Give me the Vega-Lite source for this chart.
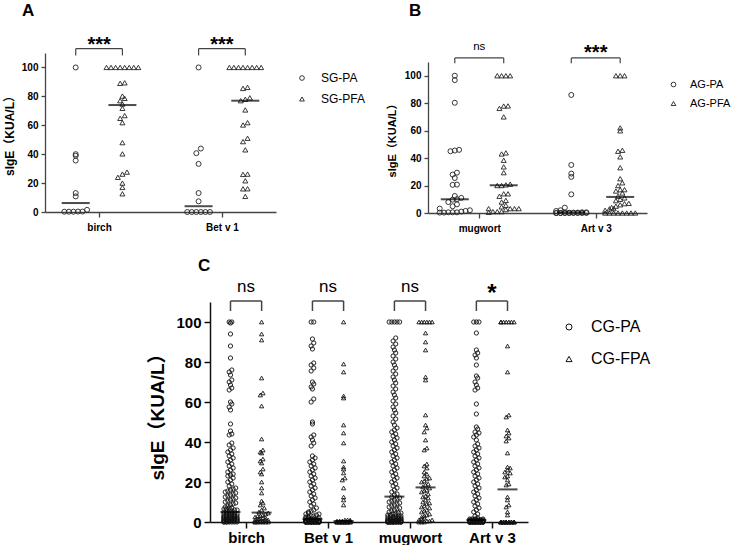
{
  "$schema": "https://vega.github.io/schema/vega-lite/v6.json",
  "padding": {"left": 3, "top": 1, "right": 0, "bottom": 0},
  "bounds": "flush",
  "spacing": 249,
  "resolve": {"scale": {"shape": "independent"}, "legend": {"shape": "independent"}},
  "config": {
    "view": {"stroke": null},
    "font": "Liberation Sans, Noto Sans CJK SC",
    "axis": {"grid": false, "labelColor": "black", "titleColor": "black", "labelFlush": false, "labelOverlap": false},
    "title": {"color": "black"}
  },
  "datasets": {
    "A": [
      {"a":"birch","g":"SG-PA","v":100},{"a":"birch","g":"SG-PA","v":40},{"a":"birch","g":"SG-PA","v":38.9},{"a":"birch","g":"SG-PA","v":35.6},{"a":"birch","g":"SG-PA","v":13.1},{"a":"birch","g":"SG-PA","v":10.8},{"a":"birch","g":"SG-PA","v":1.5},{"a":"birch","g":"SG-PA","v":0.3},{"a":"birch","g":"SG-PA","v":0.2},{"a":"birch","g":"SG-PA","v":0.2},{"a":"birch","g":"SG-PA","v":0.3},{"a":"birch","g":"SG-PA","v":0.2},
      {"a":"birch","g":"SG-PFA","v":100},{"a":"birch","g":"SG-PFA","v":100},{"a":"birch","g":"SG-PFA","v":100},{"a":"birch","g":"SG-PFA","v":100},{"a":"birch","g":"SG-PFA","v":100},{"a":"birch","g":"SG-PFA","v":100},{"a":"birch","g":"SG-PFA","v":100},{"a":"birch","g":"SG-PFA","v":100},{"a":"birch","g":"SG-PFA","v":89.4},{"a":"birch","g":"SG-PFA","v":89},{"a":"birch","g":"SG-PFA","v":80.2},{"a":"birch","g":"SG-PFA","v":78.6},{"a":"birch","g":"SG-PFA","v":77},{"a":"birch","g":"SG-PFA","v":74.7},{"a":"birch","g":"SG-PFA","v":71.7},{"a":"birch","g":"SG-PFA","v":66.7},{"a":"birch","g":"SG-PFA","v":64.8},{"a":"birch","g":"SG-PFA","v":61.8},{"a":"birch","g":"SG-PFA","v":48},{"a":"birch","g":"SG-PFA","v":40.2},{"a":"birch","g":"SG-PFA","v":27.6},{"a":"birch","g":"SG-PFA","v":26.2},{"a":"birch","g":"SG-PFA","v":24},{"a":"birch","g":"SG-PFA","v":20},{"a":"birch","g":"SG-PFA","v":17},{"a":"birch","g":"SG-PFA","v":12.6},
      {"a":"Bet v 1","g":"SG-PA","v":100},{"a":"Bet v 1","g":"SG-PA","v":43.9},{"a":"Bet v 1","g":"SG-PA","v":40.7},{"a":"Bet v 1","g":"SG-PA","v":33.3},{"a":"Bet v 1","g":"SG-PA","v":13.1},{"a":"Bet v 1","g":"SG-PA","v":7.4},{"a":"Bet v 1","g":"SG-PA","v":0},{"a":"Bet v 1","g":"SG-PA","v":0},{"a":"Bet v 1","g":"SG-PA","v":0},{"a":"Bet v 1","g":"SG-PA","v":0},{"a":"Bet v 1","g":"SG-PA","v":0},{"a":"Bet v 1","g":"SG-PA","v":0},
      {"a":"Bet v 1","g":"SG-PFA","v":100},{"a":"Bet v 1","g":"SG-PFA","v":100},{"a":"Bet v 1","g":"SG-PFA","v":100},{"a":"Bet v 1","g":"SG-PFA","v":100},{"a":"Bet v 1","g":"SG-PFA","v":100},{"a":"Bet v 1","g":"SG-PFA","v":100},{"a":"Bet v 1","g":"SG-PFA","v":100},{"a":"Bet v 1","g":"SG-PFA","v":100},{"a":"Bet v 1","g":"SG-PFA","v":86.2},{"a":"Bet v 1","g":"SG-PFA","v":85.5},{"a":"Bet v 1","g":"SG-PFA","v":79},{"a":"Bet v 1","g":"SG-PFA","v":78},{"a":"Bet v 1","g":"SG-PFA","v":77},{"a":"Bet v 1","g":"SG-PFA","v":70.6},{"a":"Bet v 1","g":"SG-PFA","v":61.8},{"a":"Bet v 1","g":"SG-PFA","v":60.2},{"a":"Bet v 1","g":"SG-PFA","v":51},{"a":"Bet v 1","g":"SG-PFA","v":48.7},{"a":"Bet v 1","g":"SG-PFA","v":43},{"a":"Bet v 1","g":"SG-PFA","v":26.2},{"a":"Bet v 1","g":"SG-PFA","v":26},{"a":"Bet v 1","g":"SG-PFA","v":21.6},{"a":"Bet v 1","g":"SG-PFA","v":16.1},{"a":"Bet v 1","g":"SG-PFA","v":16},{"a":"Bet v 1","g":"SG-PFA","v":10.8}
    ],
    "mA": [
      {"a":"birch","g":"SG-PA","v":6.2},{"a":"birch","g":"SG-PFA","v":74},{"a":"Bet v 1","g":"SG-PA","v":4},{"a":"Bet v 1","g":"SG-PFA","v":77}
    ],
    "B": [
      {"a":"mugwort","g":"AG-PA","v":100},{"a":"mugwort","g":"AG-PA","v":96.8},{"a":"mugwort","g":"AG-PA","v":80.3},{"a":"mugwort","g":"AG-PA","v":46},{"a":"mugwort","g":"AG-PA","v":45.5},{"a":"mugwort","g":"AG-PA","v":45},{"a":"mugwort","g":"AG-PA","v":29.4},{"a":"mugwort","g":"AG-PA","v":28},{"a":"mugwort","g":"AG-PA","v":25.5},{"a":"mugwort","g":"AG-PA","v":20.7},{"a":"mugwort","g":"AG-PA","v":20.5},{"a":"mugwort","g":"AG-PA","v":12.4},{"a":"mugwort","g":"AG-PA","v":11},{"a":"mugwort","g":"AG-PA","v":10},{"a":"mugwort","g":"AG-PA","v":9.7},{"a":"mugwort","g":"AG-PA","v":8},{"a":"mugwort","g":"AG-PA","v":6.3},{"a":"mugwort","g":"AG-PA","v":4.9},{"a":"mugwort","g":"AG-PA","v":3.2},{"a":"mugwort","g":"AG-PA","v":2},{"a":"mugwort","g":"AG-PA","v":1.5},{"a":"mugwort","g":"AG-PA","v":1},{"a":"mugwort","g":"AG-PA","v":0.5},{"a":"mugwort","g":"AG-PA","v":0.5},{"a":"mugwort","g":"AG-PA","v":0.5},{"a":"mugwort","g":"AG-PA","v":0.3},{"a":"mugwort","g":"AG-PA","v":0.3},
      {"a":"mugwort","g":"AG-PFA","v":100},{"a":"mugwort","g":"AG-PFA","v":100},{"a":"mugwort","g":"AG-PFA","v":100},{"a":"mugwort","g":"AG-PFA","v":100},{"a":"mugwort","g":"AG-PFA","v":78},{"a":"mugwort","g":"AG-PFA","v":77.9},{"a":"mugwort","g":"AG-PFA","v":76.2},{"a":"mugwort","g":"AG-PFA","v":70},{"a":"mugwort","g":"AG-PFA","v":43.8},{"a":"mugwort","g":"AG-PFA","v":43},{"a":"mugwort","g":"AG-PFA","v":38.4},{"a":"mugwort","g":"AG-PFA","v":33.6},{"a":"mugwort","g":"AG-PFA","v":29.4},{"a":"mugwort","g":"AG-PFA","v":21},{"a":"mugwort","g":"AG-PFA","v":20.5},{"a":"mugwort","g":"AG-PFA","v":20},{"a":"mugwort","g":"AG-PFA","v":20},{"a":"mugwort","g":"AG-PFA","v":14},{"a":"mugwort","g":"AG-PFA","v":14},{"a":"mugwort","g":"AG-PFA","v":12.2},{"a":"mugwort","g":"AG-PFA","v":9.2},{"a":"mugwort","g":"AG-PFA","v":8},{"a":"mugwort","g":"AG-PFA","v":5.6},{"a":"mugwort","g":"AG-PFA","v":4.5},{"a":"mugwort","g":"AG-PFA","v":3.2},{"a":"mugwort","g":"AG-PFA","v":3.2},{"a":"mugwort","g":"AG-PFA","v":3.2},{"a":"mugwort","g":"AG-PFA","v":3.2},{"a":"mugwort","g":"AG-PFA","v":2.5},{"a":"mugwort","g":"AG-PFA","v":1},{"a":"mugwort","g":"AG-PFA","v":1},{"a":"mugwort","g":"AG-PFA","v":1},{"a":"mugwort","g":"AG-PFA","v":0.5},
      {"a":"Art v 3","g":"AG-PA","v":86},{"a":"Art v 3","g":"AG-PA","v":35},{"a":"Art v 3","g":"AG-PA","v":28.7},{"a":"Art v 3","g":"AG-PA","v":26.3},{"a":"Art v 3","g":"AG-PA","v":13.6},{"a":"Art v 3","g":"AG-PA","v":3.9},{"a":"Art v 3","g":"AG-PA","v":2},{"a":"Art v 3","g":"AG-PA","v":1.5},{"a":"Art v 3","g":"AG-PA","v":0.5},{"a":"Art v 3","g":"AG-PA","v":0.5},{"a":"Art v 3","g":"AG-PA","v":0.3},{"a":"Art v 3","g":"AG-PA","v":0.3},{"a":"Art v 3","g":"AG-PA","v":0.2},{"a":"Art v 3","g":"AG-PA","v":0.2},{"a":"Art v 3","g":"AG-PA","v":0},{"a":"Art v 3","g":"AG-PA","v":0},{"a":"Art v 3","g":"AG-PA","v":0},{"a":"Art v 3","g":"AG-PA","v":0},{"a":"Art v 3","g":"AG-PA","v":0},{"a":"Art v 3","g":"AG-PA","v":0},{"a":"Art v 3","g":"AG-PA","v":0},{"a":"Art v 3","g":"AG-PA","v":0},{"a":"Art v 3","g":"AG-PA","v":0},{"a":"Art v 3","g":"AG-PA","v":0},
      {"a":"Art v 3","g":"AG-PFA","v":100},{"a":"Art v 3","g":"AG-PFA","v":100},{"a":"Art v 3","g":"AG-PFA","v":100},{"a":"Art v 3","g":"AG-PFA","v":62},{"a":"Art v 3","g":"AG-PFA","v":59.9},{"a":"Art v 3","g":"AG-PFA","v":45.7},{"a":"Art v 3","g":"AG-PFA","v":45},{"a":"Art v 3","g":"AG-PFA","v":40.9},{"a":"Art v 3","g":"AG-PFA","v":33},{"a":"Art v 3","g":"AG-PFA","v":25},{"a":"Art v 3","g":"AG-PFA","v":22},{"a":"Art v 3","g":"AG-PFA","v":20},{"a":"Art v 3","g":"AG-PFA","v":17},{"a":"Art v 3","g":"AG-PFA","v":17},{"a":"Art v 3","g":"AG-PFA","v":16},{"a":"Art v 3","g":"AG-PFA","v":14.6},{"a":"Art v 3","g":"AG-PFA","v":12.2},{"a":"Art v 3","g":"AG-PFA","v":11},{"a":"Art v 3","g":"AG-PFA","v":10},{"a":"Art v 3","g":"AG-PFA","v":9},{"a":"Art v 3","g":"AG-PFA","v":7},{"a":"Art v 3","g":"AG-PFA","v":6.8},{"a":"Art v 3","g":"AG-PFA","v":6},{"a":"Art v 3","g":"AG-PFA","v":5},{"a":"Art v 3","g":"AG-PFA","v":4},{"a":"Art v 3","g":"AG-PFA","v":3.2},{"a":"Art v 3","g":"AG-PFA","v":3},{"a":"Art v 3","g":"AG-PFA","v":2},{"a":"Art v 3","g":"AG-PFA","v":0},{"a":"Art v 3","g":"AG-PFA","v":0},{"a":"Art v 3","g":"AG-PFA","v":0},{"a":"Art v 3","g":"AG-PFA","v":0},{"a":"Art v 3","g":"AG-PFA","v":0},{"a":"Art v 3","g":"AG-PFA","v":0},{"a":"Art v 3","g":"AG-PFA","v":0},{"a":"Art v 3","g":"AG-PFA","v":0}
    ],
    "mB": [
      {"a":"mugwort","g":"AG-PA","v":10},{"a":"mugwort","g":"AG-PFA","v":20.2},{"a":"Art v 3","g":"AG-PA","v":0.5},{"a":"Art v 3","g":"AG-PFA","v":11.7}
    ],
    "C": [
      {"a":"birch","g":"CG-PA","v":100},{"a":"birch","g":"CG-PA","v":100},{"a":"birch","g":"CG-PA","v":99.5},{"a":"birch","g":"CG-PA","v":94},{"a":"birch","g":"CG-PA","v":88},{"a":"birch","g":"CG-PA","v":82},{"a":"birch","g":"CG-PA","v":76},{"a":"birch","g":"CG-PA","v":75},{"a":"birch","g":"CG-PA","v":73.5},{"a":"birch","g":"CG-PA","v":71},{"a":"birch","g":"CG-PA","v":70},{"a":"birch","g":"CG-PA","v":68.5},{"a":"birch","g":"CG-PA","v":67},{"a":"birch","g":"CG-PA","v":66},{"a":"birch","g":"CG-PA","v":60},{"a":"birch","g":"CG-PA","v":59},{"a":"birch","g":"CG-PA","v":57.5},{"a":"birch","g":"CG-PA","v":56},{"a":"birch","g":"CG-PA","v":49},{"a":"birch","g":"CG-PA","v":45.5},{"a":"birch","g":"CG-PA","v":44},{"a":"birch","g":"CG-PA","v":43.5},{"a":"birch","g":"CG-PA","v":39.5},{"a":"birch","g":"CG-PA","v":38.5},{"a":"birch","g":"CG-PA","v":37},{"a":"birch","g":"CG-PA","v":36},{"a":"birch","g":"CG-PA","v":35},{"a":"birch","g":"CG-PA","v":34},{"a":"birch","g":"CG-PA","v":33},{"a":"birch","g":"CG-PA","v":32},{"a":"birch","g":"CG-PA","v":31},{"a":"birch","g":"CG-PA","v":30},{"a":"birch","g":"CG-PA","v":29},{"a":"birch","g":"CG-PA","v":28},{"a":"birch","g":"CG-PA","v":27},{"a":"birch","g":"CG-PA","v":26},{"a":"birch","g":"CG-PA","v":25},{"a":"birch","g":"CG-PA","v":24},{"a":"birch","g":"CG-PA","v":23.5},{"a":"birch","g":"CG-PA","v":23},{"a":"birch","g":"CG-PA","v":22},{"a":"birch","g":"CG-PA","v":21},{"a":"birch","g":"CG-PA","v":20},{"a":"birch","g":"CG-PA","v":19},{"a":"birch","g":"CG-PA","v":18},{"a":"birch","g":"CG-PA","v":17},{"a":"birch","g":"CG-PA","v":16.5},{"a":"birch","g":"CG-PA","v":16},{"a":"birch","g":"CG-PA","v":15.5},{"a":"birch","g":"CG-PA","v":15},{"a":"birch","g":"CG-PA","v":14.5},{"a":"birch","g":"CG-PA","v":14},{"a":"birch","g":"CG-PA","v":13.5},{"a":"birch","g":"CG-PA","v":13},{"a":"birch","g":"CG-PA","v":12.5},{"a":"birch","g":"CG-PA","v":12},{"a":"birch","g":"CG-PA","v":11.5},{"a":"birch","g":"CG-PA","v":11},{"a":"birch","g":"CG-PA","v":10.5},{"a":"birch","g":"CG-PA","v":10},{"a":"birch","g":"CG-PA","v":9.5},{"a":"birch","g":"CG-PA","v":9},{"a":"birch","g":"CG-PA","v":8.5},{"a":"birch","g":"CG-PA","v":8},{"a":"birch","g":"CG-PA","v":7.5},{"a":"birch","g":"CG-PA","v":7},{"a":"birch","g":"CG-PA","v":7},{"a":"birch","g":"CG-PA","v":6.5},{"a":"birch","g":"CG-PA","v":6.5},{"a":"birch","g":"CG-PA","v":6},{"a":"birch","g":"CG-PA","v":6},{"a":"birch","g":"CG-PA","v":5.5},{"a":"birch","g":"CG-PA","v":5.5},{"a":"birch","g":"CG-PA","v":5},{"a":"birch","g":"CG-PA","v":5},{"a":"birch","g":"CG-PA","v":4.5},{"a":"birch","g":"CG-PA","v":4.5},{"a":"birch","g":"CG-PA","v":4.5},{"a":"birch","g":"CG-PA","v":4},{"a":"birch","g":"CG-PA","v":4},{"a":"birch","g":"CG-PA","v":4},{"a":"birch","g":"CG-PA","v":3.5},{"a":"birch","g":"CG-PA","v":3.5},{"a":"birch","g":"CG-PA","v":3.5},{"a":"birch","g":"CG-PA","v":3},{"a":"birch","g":"CG-PA","v":3},{"a":"birch","g":"CG-PA","v":3},{"a":"birch","g":"CG-PA","v":3},{"a":"birch","g":"CG-PA","v":2.5},{"a":"birch","g":"CG-PA","v":2.5},{"a":"birch","g":"CG-PA","v":2.5},{"a":"birch","g":"CG-PA","v":2.5},{"a":"birch","g":"CG-PA","v":2},{"a":"birch","g":"CG-PA","v":2},{"a":"birch","g":"CG-PA","v":2},{"a":"birch","g":"CG-PA","v":2},{"a":"birch","g":"CG-PA","v":2},{"a":"birch","g":"CG-PA","v":1.5},{"a":"birch","g":"CG-PA","v":1.5},{"a":"birch","g":"CG-PA","v":1.5},{"a":"birch","g":"CG-PA","v":1.5},{"a":"birch","g":"CG-PA","v":1.5},{"a":"birch","g":"CG-PA","v":1},{"a":"birch","g":"CG-PA","v":1},{"a":"birch","g":"CG-PA","v":1},{"a":"birch","g":"CG-PA","v":1},{"a":"birch","g":"CG-PA","v":1},{"a":"birch","g":"CG-PA","v":1},{"a":"birch","g":"CG-PA","v":0.5},{"a":"birch","g":"CG-PA","v":0.5},{"a":"birch","g":"CG-PA","v":0.5},{"a":"birch","g":"CG-PA","v":0.5},{"a":"birch","g":"CG-PA","v":0.5},{"a":"birch","g":"CG-PA","v":0.5},{"a":"birch","g":"CG-PA","v":0.5},{"a":"birch","g":"CG-PA","v":0},{"a":"birch","g":"CG-PA","v":0},{"a":"birch","g":"CG-PA","v":0},{"a":"birch","g":"CG-PA","v":0},{"a":"birch","g":"CG-PA","v":0},{"a":"birch","g":"CG-PA","v":0},{"a":"birch","g":"CG-PA","v":0},{"a":"birch","g":"CG-PA","v":0},
      {"a":"birch","g":"CG-FPA","v":100},{"a":"birch","g":"CG-FPA","v":94},{"a":"birch","g":"CG-FPA","v":91},{"a":"birch","g":"CG-FPA","v":72},{"a":"birch","g":"CG-FPA","v":64.5},{"a":"birch","g":"CG-FPA","v":63.5},{"a":"birch","g":"CG-FPA","v":58},{"a":"birch","g":"CG-FPA","v":41.5},{"a":"birch","g":"CG-FPA","v":36},{"a":"birch","g":"CG-FPA","v":35},{"a":"birch","g":"CG-FPA","v":34.5},{"a":"birch","g":"CG-FPA","v":31.5},{"a":"birch","g":"CG-FPA","v":30.5},{"a":"birch","g":"CG-FPA","v":29.5},{"a":"birch","g":"CG-FPA","v":26.5},{"a":"birch","g":"CG-FPA","v":25},{"a":"birch","g":"CG-FPA","v":24},{"a":"birch","g":"CG-FPA","v":20},{"a":"birch","g":"CG-FPA","v":17},{"a":"birch","g":"CG-FPA","v":14.5},{"a":"birch","g":"CG-FPA","v":10.5},{"a":"birch","g":"CG-FPA","v":9.5},{"a":"birch","g":"CG-FPA","v":8.5},{"a":"birch","g":"CG-FPA","v":7},{"a":"birch","g":"CG-FPA","v":6},{"a":"birch","g":"CG-FPA","v":5},{"a":"birch","g":"CG-FPA","v":4.5},{"a":"birch","g":"CG-FPA","v":4},{"a":"birch","g":"CG-FPA","v":3.5},{"a":"birch","g":"CG-FPA","v":3},{"a":"birch","g":"CG-FPA","v":3},{"a":"birch","g":"CG-FPA","v":2.5},{"a":"birch","g":"CG-FPA","v":2},{"a":"birch","g":"CG-FPA","v":2},{"a":"birch","g":"CG-FPA","v":1.5},{"a":"birch","g":"CG-FPA","v":1.5},{"a":"birch","g":"CG-FPA","v":1},{"a":"birch","g":"CG-FPA","v":1},{"a":"birch","g":"CG-FPA","v":1},{"a":"birch","g":"CG-FPA","v":0.5},{"a":"birch","g":"CG-FPA","v":0.5},{"a":"birch","g":"CG-FPA","v":0.5},{"a":"birch","g":"CG-FPA","v":0},{"a":"birch","g":"CG-FPA","v":0},{"a":"birch","g":"CG-FPA","v":0},{"a":"birch","g":"CG-FPA","v":0},{"a":"birch","g":"CG-FPA","v":0},{"a":"birch","g":"CG-FPA","v":0},{"a":"birch","g":"CG-FPA","v":0},
      {"a":"Bet v 1","g":"CG-PA","v":100},{"a":"Bet v 1","g":"CG-PA","v":100},{"a":"Bet v 1","g":"CG-PA","v":91.5},{"a":"Bet v 1","g":"CG-PA","v":89.5},{"a":"Bet v 1","g":"CG-PA","v":88},{"a":"Bet v 1","g":"CG-PA","v":86.5},{"a":"Bet v 1","g":"CG-PA","v":79.5},{"a":"Bet v 1","g":"CG-PA","v":78.5},{"a":"Bet v 1","g":"CG-PA","v":77},{"a":"Bet v 1","g":"CG-PA","v":75.5},{"a":"Bet v 1","g":"CG-PA","v":70},{"a":"Bet v 1","g":"CG-PA","v":69},{"a":"Bet v 1","g":"CG-PA","v":67.5},{"a":"Bet v 1","g":"CG-PA","v":66.5},{"a":"Bet v 1","g":"CG-PA","v":61.5},{"a":"Bet v 1","g":"CG-PA","v":60},{"a":"Bet v 1","g":"CG-PA","v":50},{"a":"Bet v 1","g":"CG-PA","v":49},{"a":"Bet v 1","g":"CG-PA","v":43.5},{"a":"Bet v 1","g":"CG-PA","v":42.5},{"a":"Bet v 1","g":"CG-PA","v":41},{"a":"Bet v 1","g":"CG-PA","v":39.5},{"a":"Bet v 1","g":"CG-PA","v":38},{"a":"Bet v 1","g":"CG-PA","v":33},{"a":"Bet v 1","g":"CG-PA","v":32},{"a":"Bet v 1","g":"CG-PA","v":31},{"a":"Bet v 1","g":"CG-PA","v":30},{"a":"Bet v 1","g":"CG-PA","v":29},{"a":"Bet v 1","g":"CG-PA","v":28},{"a":"Bet v 1","g":"CG-PA","v":27},{"a":"Bet v 1","g":"CG-PA","v":26},{"a":"Bet v 1","g":"CG-PA","v":25},{"a":"Bet v 1","g":"CG-PA","v":24},{"a":"Bet v 1","g":"CG-PA","v":23},{"a":"Bet v 1","g":"CG-PA","v":22},{"a":"Bet v 1","g":"CG-PA","v":21},{"a":"Bet v 1","g":"CG-PA","v":20},{"a":"Bet v 1","g":"CG-PA","v":19},{"a":"Bet v 1","g":"CG-PA","v":18},{"a":"Bet v 1","g":"CG-PA","v":17},{"a":"Bet v 1","g":"CG-PA","v":16},{"a":"Bet v 1","g":"CG-PA","v":15},{"a":"Bet v 1","g":"CG-PA","v":14},{"a":"Bet v 1","g":"CG-PA","v":13},{"a":"Bet v 1","g":"CG-PA","v":12},{"a":"Bet v 1","g":"CG-PA","v":11},{"a":"Bet v 1","g":"CG-PA","v":10},{"a":"Bet v 1","g":"CG-PA","v":9},{"a":"Bet v 1","g":"CG-PA","v":8},{"a":"Bet v 1","g":"CG-PA","v":7},{"a":"Bet v 1","g":"CG-PA","v":6},{"a":"Bet v 1","g":"CG-PA","v":5.5},{"a":"Bet v 1","g":"CG-PA","v":5},{"a":"Bet v 1","g":"CG-PA","v":4.5},{"a":"Bet v 1","g":"CG-PA","v":4},{"a":"Bet v 1","g":"CG-PA","v":4},{"a":"Bet v 1","g":"CG-PA","v":3.5},{"a":"Bet v 1","g":"CG-PA","v":3},{"a":"Bet v 1","g":"CG-PA","v":3},{"a":"Bet v 1","g":"CG-PA","v":2.5},{"a":"Bet v 1","g":"CG-PA","v":2.5},{"a":"Bet v 1","g":"CG-PA","v":2},{"a":"Bet v 1","g":"CG-PA","v":2},{"a":"Bet v 1","g":"CG-PA","v":2},{"a":"Bet v 1","g":"CG-PA","v":1.5},{"a":"Bet v 1","g":"CG-PA","v":1.5},{"a":"Bet v 1","g":"CG-PA","v":1.5},{"a":"Bet v 1","g":"CG-PA","v":1},{"a":"Bet v 1","g":"CG-PA","v":1},{"a":"Bet v 1","g":"CG-PA","v":1},{"a":"Bet v 1","g":"CG-PA","v":1},{"a":"Bet v 1","g":"CG-PA","v":1},{"a":"Bet v 1","g":"CG-PA","v":1},{"a":"Bet v 1","g":"CG-PA","v":1},{"a":"Bet v 1","g":"CG-PA","v":1},{"a":"Bet v 1","g":"CG-PA","v":0.5},{"a":"Bet v 1","g":"CG-PA","v":0.5},{"a":"Bet v 1","g":"CG-PA","v":0.5},{"a":"Bet v 1","g":"CG-PA","v":0.5},{"a":"Bet v 1","g":"CG-PA","v":0.5},{"a":"Bet v 1","g":"CG-PA","v":0.5},{"a":"Bet v 1","g":"CG-PA","v":0.5},{"a":"Bet v 1","g":"CG-PA","v":0.5},{"a":"Bet v 1","g":"CG-PA","v":0.5},{"a":"Bet v 1","g":"CG-PA","v":0.5},{"a":"Bet v 1","g":"CG-PA","v":0.5},{"a":"Bet v 1","g":"CG-PA","v":0.5},{"a":"Bet v 1","g":"CG-PA","v":0},{"a":"Bet v 1","g":"CG-PA","v":0},{"a":"Bet v 1","g":"CG-PA","v":0},{"a":"Bet v 1","g":"CG-PA","v":0},{"a":"Bet v 1","g":"CG-PA","v":0},{"a":"Bet v 1","g":"CG-PA","v":0},{"a":"Bet v 1","g":"CG-PA","v":0},{"a":"Bet v 1","g":"CG-PA","v":0},{"a":"Bet v 1","g":"CG-PA","v":0},{"a":"Bet v 1","g":"CG-PA","v":0},{"a":"Bet v 1","g":"CG-PA","v":0},{"a":"Bet v 1","g":"CG-PA","v":0},{"a":"Bet v 1","g":"CG-PA","v":0},{"a":"Bet v 1","g":"CG-PA","v":0},{"a":"Bet v 1","g":"CG-PA","v":0},{"a":"Bet v 1","g":"CG-PA","v":0},{"a":"Bet v 1","g":"CG-PA","v":0},{"a":"Bet v 1","g":"CG-PA","v":0},{"a":"Bet v 1","g":"CG-PA","v":0},{"a":"Bet v 1","g":"CG-PA","v":0},{"a":"Bet v 1","g":"CG-PA","v":0},{"a":"Bet v 1","g":"CG-PA","v":0},{"a":"Bet v 1","g":"CG-PA","v":0},{"a":"Bet v 1","g":"CG-PA","v":0},{"a":"Bet v 1","g":"CG-PA","v":0},{"a":"Bet v 1","g":"CG-PA","v":0},{"a":"Bet v 1","g":"CG-PA","v":0},{"a":"Bet v 1","g":"CG-PA","v":0},{"a":"Bet v 1","g":"CG-PA","v":0},{"a":"Bet v 1","g":"CG-PA","v":0},
      {"a":"Bet v 1","g":"CG-FPA","v":100},{"a":"Bet v 1","g":"CG-FPA","v":79},{"a":"Bet v 1","g":"CG-FPA","v":75},{"a":"Bet v 1","g":"CG-FPA","v":63},{"a":"Bet v 1","g":"CG-FPA","v":62},{"a":"Bet v 1","g":"CG-FPA","v":48.5},{"a":"Bet v 1","g":"CG-FPA","v":44.5},{"a":"Bet v 1","g":"CG-FPA","v":39.5},{"a":"Bet v 1","g":"CG-FPA","v":30.5},{"a":"Bet v 1","g":"CG-FPA","v":27.5},{"a":"Bet v 1","g":"CG-FPA","v":26.5},{"a":"Bet v 1","g":"CG-FPA","v":24.5},{"a":"Bet v 1","g":"CG-FPA","v":22},{"a":"Bet v 1","g":"CG-FPA","v":21},{"a":"Bet v 1","g":"CG-FPA","v":17},{"a":"Bet v 1","g":"CG-FPA","v":12.5},{"a":"Bet v 1","g":"CG-FPA","v":11},{"a":"Bet v 1","g":"CG-FPA","v":8.5},{"a":"Bet v 1","g":"CG-FPA","v":1},{"a":"Bet v 1","g":"CG-FPA","v":1},{"a":"Bet v 1","g":"CG-FPA","v":1},{"a":"Bet v 1","g":"CG-FPA","v":0.5},{"a":"Bet v 1","g":"CG-FPA","v":0.5},{"a":"Bet v 1","g":"CG-FPA","v":0.5},{"a":"Bet v 1","g":"CG-FPA","v":0.5},{"a":"Bet v 1","g":"CG-FPA","v":0},{"a":"Bet v 1","g":"CG-FPA","v":0},{"a":"Bet v 1","g":"CG-FPA","v":0},{"a":"Bet v 1","g":"CG-FPA","v":0},{"a":"Bet v 1","g":"CG-FPA","v":0},{"a":"Bet v 1","g":"CG-FPA","v":0},{"a":"Bet v 1","g":"CG-FPA","v":0},{"a":"Bet v 1","g":"CG-FPA","v":0},{"a":"Bet v 1","g":"CG-FPA","v":0},{"a":"Bet v 1","g":"CG-FPA","v":0},{"a":"Bet v 1","g":"CG-FPA","v":0},{"a":"Bet v 1","g":"CG-FPA","v":0},{"a":"Bet v 1","g":"CG-FPA","v":0},{"a":"Bet v 1","g":"CG-FPA","v":0},{"a":"Bet v 1","g":"CG-FPA","v":0},{"a":"Bet v 1","g":"CG-FPA","v":0},{"a":"Bet v 1","g":"CG-FPA","v":0},
      {"a":"mugwort","g":"CG-PA","v":100},{"a":"mugwort","g":"CG-PA","v":100},{"a":"mugwort","g":"CG-PA","v":100},{"a":"mugwort","g":"CG-PA","v":100},{"a":"mugwort","g":"CG-PA","v":100},{"a":"mugwort","g":"CG-PA","v":92},{"a":"mugwort","g":"CG-PA","v":90.5},{"a":"mugwort","g":"CG-PA","v":89},{"a":"mugwort","g":"CG-PA","v":87.5},{"a":"mugwort","g":"CG-PA","v":86},{"a":"mugwort","g":"CG-PA","v":84.5},{"a":"mugwort","g":"CG-PA","v":83},{"a":"mugwort","g":"CG-PA","v":81.5},{"a":"mugwort","g":"CG-PA","v":80},{"a":"mugwort","g":"CG-PA","v":78.5},{"a":"mugwort","g":"CG-PA","v":77},{"a":"mugwort","g":"CG-PA","v":75.5},{"a":"mugwort","g":"CG-PA","v":74},{"a":"mugwort","g":"CG-PA","v":72.5},{"a":"mugwort","g":"CG-PA","v":71},{"a":"mugwort","g":"CG-PA","v":69.5},{"a":"mugwort","g":"CG-PA","v":68},{"a":"mugwort","g":"CG-PA","v":66.5},{"a":"mugwort","g":"CG-PA","v":65},{"a":"mugwort","g":"CG-PA","v":63.5},{"a":"mugwort","g":"CG-PA","v":62},{"a":"mugwort","g":"CG-PA","v":60.5},{"a":"mugwort","g":"CG-PA","v":59},{"a":"mugwort","g":"CG-PA","v":57.5},{"a":"mugwort","g":"CG-PA","v":56},{"a":"mugwort","g":"CG-PA","v":54.5},{"a":"mugwort","g":"CG-PA","v":53},{"a":"mugwort","g":"CG-PA","v":51.5},{"a":"mugwort","g":"CG-PA","v":50},{"a":"mugwort","g":"CG-PA","v":48.5},{"a":"mugwort","g":"CG-PA","v":47},{"a":"mugwort","g":"CG-PA","v":46},{"a":"mugwort","g":"CG-PA","v":45},{"a":"mugwort","g":"CG-PA","v":44},{"a":"mugwort","g":"CG-PA","v":43},{"a":"mugwort","g":"CG-PA","v":42},{"a":"mugwort","g":"CG-PA","v":41},{"a":"mugwort","g":"CG-PA","v":40},{"a":"mugwort","g":"CG-PA","v":39},{"a":"mugwort","g":"CG-PA","v":38},{"a":"mugwort","g":"CG-PA","v":37},{"a":"mugwort","g":"CG-PA","v":36},{"a":"mugwort","g":"CG-PA","v":35},{"a":"mugwort","g":"CG-PA","v":34},{"a":"mugwort","g":"CG-PA","v":33},{"a":"mugwort","g":"CG-PA","v":32},{"a":"mugwort","g":"CG-PA","v":31},{"a":"mugwort","g":"CG-PA","v":30},{"a":"mugwort","g":"CG-PA","v":29},{"a":"mugwort","g":"CG-PA","v":28},{"a":"mugwort","g":"CG-PA","v":27},{"a":"mugwort","g":"CG-PA","v":26},{"a":"mugwort","g":"CG-PA","v":25},{"a":"mugwort","g":"CG-PA","v":24},{"a":"mugwort","g":"CG-PA","v":23},{"a":"mugwort","g":"CG-PA","v":22},{"a":"mugwort","g":"CG-PA","v":21},{"a":"mugwort","g":"CG-PA","v":20},{"a":"mugwort","g":"CG-PA","v":19},{"a":"mugwort","g":"CG-PA","v":18},{"a":"mugwort","g":"CG-PA","v":17},{"a":"mugwort","g":"CG-PA","v":16},{"a":"mugwort","g":"CG-PA","v":15},{"a":"mugwort","g":"CG-PA","v":14},{"a":"mugwort","g":"CG-PA","v":13.5},{"a":"mugwort","g":"CG-PA","v":12.5},{"a":"mugwort","g":"CG-PA","v":12},{"a":"mugwort","g":"CG-PA","v":11.5},{"a":"mugwort","g":"CG-PA","v":11},{"a":"mugwort","g":"CG-PA","v":10.5},{"a":"mugwort","g":"CG-PA","v":10},{"a":"mugwort","g":"CG-PA","v":9.5},{"a":"mugwort","g":"CG-PA","v":9},{"a":"mugwort","g":"CG-PA","v":8.5},{"a":"mugwort","g":"CG-PA","v":8},{"a":"mugwort","g":"CG-PA","v":7.5},{"a":"mugwort","g":"CG-PA","v":7},{"a":"mugwort","g":"CG-PA","v":6.5},{"a":"mugwort","g":"CG-PA","v":6},{"a":"mugwort","g":"CG-PA","v":5.5},{"a":"mugwort","g":"CG-PA","v":5},{"a":"mugwort","g":"CG-PA","v":4.5},{"a":"mugwort","g":"CG-PA","v":4.5},{"a":"mugwort","g":"CG-PA","v":4},{"a":"mugwort","g":"CG-PA","v":4},{"a":"mugwort","g":"CG-PA","v":3.5},{"a":"mugwort","g":"CG-PA","v":3.5},{"a":"mugwort","g":"CG-PA","v":3},{"a":"mugwort","g":"CG-PA","v":3},{"a":"mugwort","g":"CG-PA","v":3},{"a":"mugwort","g":"CG-PA","v":2.5},{"a":"mugwort","g":"CG-PA","v":2.5},{"a":"mugwort","g":"CG-PA","v":2.5},{"a":"mugwort","g":"CG-PA","v":2},{"a":"mugwort","g":"CG-PA","v":2},{"a":"mugwort","g":"CG-PA","v":2},{"a":"mugwort","g":"CG-PA","v":2},{"a":"mugwort","g":"CG-PA","v":1.5},{"a":"mugwort","g":"CG-PA","v":1.5},{"a":"mugwort","g":"CG-PA","v":1.5},{"a":"mugwort","g":"CG-PA","v":1.5},{"a":"mugwort","g":"CG-PA","v":1},{"a":"mugwort","g":"CG-PA","v":1},{"a":"mugwort","g":"CG-PA","v":1},{"a":"mugwort","g":"CG-PA","v":1},{"a":"mugwort","g":"CG-PA","v":1},{"a":"mugwort","g":"CG-PA","v":0.5},{"a":"mugwort","g":"CG-PA","v":0.5},{"a":"mugwort","g":"CG-PA","v":0.5},{"a":"mugwort","g":"CG-PA","v":0.5},{"a":"mugwort","g":"CG-PA","v":0.5},{"a":"mugwort","g":"CG-PA","v":0.5},{"a":"mugwort","g":"CG-PA","v":0.5},{"a":"mugwort","g":"CG-PA","v":0.5},{"a":"mugwort","g":"CG-PA","v":0},{"a":"mugwort","g":"CG-PA","v":0},{"a":"mugwort","g":"CG-PA","v":0},{"a":"mugwort","g":"CG-PA","v":0},{"a":"mugwort","g":"CG-PA","v":0},{"a":"mugwort","g":"CG-PA","v":0},{"a":"mugwort","g":"CG-PA","v":0},{"a":"mugwort","g":"CG-PA","v":0},{"a":"mugwort","g":"CG-PA","v":0},{"a":"mugwort","g":"CG-PA","v":0},{"a":"mugwort","g":"CG-PA","v":0},{"a":"mugwort","g":"CG-PA","v":0},{"a":"mugwort","g":"CG-PA","v":0},{"a":"mugwort","g":"CG-PA","v":0},{"a":"mugwort","g":"CG-PA","v":0},{"a":"mugwort","g":"CG-PA","v":0},{"a":"mugwort","g":"CG-PA","v":0},{"a":"mugwort","g":"CG-PA","v":0},{"a":"mugwort","g":"CG-PA","v":0},{"a":"mugwort","g":"CG-PA","v":0},{"a":"mugwort","g":"CG-PA","v":0},
      {"a":"mugwort","g":"CG-FPA","v":100},{"a":"mugwort","g":"CG-FPA","v":100},{"a":"mugwort","g":"CG-FPA","v":100},{"a":"mugwort","g":"CG-FPA","v":100},{"a":"mugwort","g":"CG-FPA","v":100},{"a":"mugwort","g":"CG-FPA","v":100},{"a":"mugwort","g":"CG-FPA","v":94.5},{"a":"mugwort","g":"CG-FPA","v":90},{"a":"mugwort","g":"CG-FPA","v":86},{"a":"mugwort","g":"CG-FPA","v":72.5},{"a":"mugwort","g":"CG-FPA","v":71},{"a":"mugwort","g":"CG-FPA","v":53.5},{"a":"mugwort","g":"CG-FPA","v":48.5},{"a":"mugwort","g":"CG-FPA","v":47},{"a":"mugwort","g":"CG-FPA","v":45},{"a":"mugwort","g":"CG-FPA","v":41},{"a":"mugwort","g":"CG-FPA","v":37},{"a":"mugwort","g":"CG-FPA","v":36},{"a":"mugwort","g":"CG-FPA","v":29},{"a":"mugwort","g":"CG-FPA","v":28},{"a":"mugwort","g":"CG-FPA","v":27},{"a":"mugwort","g":"CG-FPA","v":25},{"a":"mugwort","g":"CG-FPA","v":24},{"a":"mugwort","g":"CG-FPA","v":23},{"a":"mugwort","g":"CG-FPA","v":22},{"a":"mugwort","g":"CG-FPA","v":21.5},{"a":"mugwort","g":"CG-FPA","v":20.5},{"a":"mugwort","g":"CG-FPA","v":20},{"a":"mugwort","g":"CG-FPA","v":19},{"a":"mugwort","g":"CG-FPA","v":18.5},{"a":"mugwort","g":"CG-FPA","v":17.5},{"a":"mugwort","g":"CG-FPA","v":17},{"a":"mugwort","g":"CG-FPA","v":16},{"a":"mugwort","g":"CG-FPA","v":15.5},{"a":"mugwort","g":"CG-FPA","v":15},{"a":"mugwort","g":"CG-FPA","v":14},{"a":"mugwort","g":"CG-FPA","v":13},{"a":"mugwort","g":"CG-FPA","v":12.5},{"a":"mugwort","g":"CG-FPA","v":12},{"a":"mugwort","g":"CG-FPA","v":11},{"a":"mugwort","g":"CG-FPA","v":10},{"a":"mugwort","g":"CG-FPA","v":9.5},{"a":"mugwort","g":"CG-FPA","v":9},{"a":"mugwort","g":"CG-FPA","v":8},{"a":"mugwort","g":"CG-FPA","v":7.5},{"a":"mugwort","g":"CG-FPA","v":7},{"a":"mugwort","g":"CG-FPA","v":6},{"a":"mugwort","g":"CG-FPA","v":5.5},{"a":"mugwort","g":"CG-FPA","v":5},{"a":"mugwort","g":"CG-FPA","v":4},{"a":"mugwort","g":"CG-FPA","v":3.5},{"a":"mugwort","g":"CG-FPA","v":3},{"a":"mugwort","g":"CG-FPA","v":2.5},{"a":"mugwort","g":"CG-FPA","v":2},{"a":"mugwort","g":"CG-FPA","v":1.5},{"a":"mugwort","g":"CG-FPA","v":1},{"a":"mugwort","g":"CG-FPA","v":1},{"a":"mugwort","g":"CG-FPA","v":0.5},{"a":"mugwort","g":"CG-FPA","v":0.5},{"a":"mugwort","g":"CG-FPA","v":0},{"a":"mugwort","g":"CG-FPA","v":0},{"a":"mugwort","g":"CG-FPA","v":0},
      {"a":"Art v 3","g":"CG-PA","v":100},{"a":"Art v 3","g":"CG-PA","v":100},{"a":"Art v 3","g":"CG-PA","v":100},{"a":"Art v 3","g":"CG-PA","v":94.5},{"a":"Art v 3","g":"CG-PA","v":86},{"a":"Art v 3","g":"CG-PA","v":84.5},{"a":"Art v 3","g":"CG-PA","v":83.5},{"a":"Art v 3","g":"CG-PA","v":82},{"a":"Art v 3","g":"CG-PA","v":78.5},{"a":"Art v 3","g":"CG-PA","v":73},{"a":"Art v 3","g":"CG-PA","v":72},{"a":"Art v 3","g":"CG-PA","v":70},{"a":"Art v 3","g":"CG-PA","v":68.5},{"a":"Art v 3","g":"CG-PA","v":67},{"a":"Art v 3","g":"CG-PA","v":66},{"a":"Art v 3","g":"CG-PA","v":59},{"a":"Art v 3","g":"CG-PA","v":54},{"a":"Art v 3","g":"CG-PA","v":47.5},{"a":"Art v 3","g":"CG-PA","v":46.5},{"a":"Art v 3","g":"CG-PA","v":45},{"a":"Art v 3","g":"CG-PA","v":44.5},{"a":"Art v 3","g":"CG-PA","v":43.5},{"a":"Art v 3","g":"CG-PA","v":42.5},{"a":"Art v 3","g":"CG-PA","v":41},{"a":"Art v 3","g":"CG-PA","v":39},{"a":"Art v 3","g":"CG-PA","v":38},{"a":"Art v 3","g":"CG-PA","v":37},{"a":"Art v 3","g":"CG-PA","v":36},{"a":"Art v 3","g":"CG-PA","v":35},{"a":"Art v 3","g":"CG-PA","v":34},{"a":"Art v 3","g":"CG-PA","v":33},{"a":"Art v 3","g":"CG-PA","v":32},{"a":"Art v 3","g":"CG-PA","v":31},{"a":"Art v 3","g":"CG-PA","v":30},{"a":"Art v 3","g":"CG-PA","v":29},{"a":"Art v 3","g":"CG-PA","v":28},{"a":"Art v 3","g":"CG-PA","v":27},{"a":"Art v 3","g":"CG-PA","v":26},{"a":"Art v 3","g":"CG-PA","v":25},{"a":"Art v 3","g":"CG-PA","v":24},{"a":"Art v 3","g":"CG-PA","v":23},{"a":"Art v 3","g":"CG-PA","v":22},{"a":"Art v 3","g":"CG-PA","v":21},{"a":"Art v 3","g":"CG-PA","v":20},{"a":"Art v 3","g":"CG-PA","v":19},{"a":"Art v 3","g":"CG-PA","v":18},{"a":"Art v 3","g":"CG-PA","v":17},{"a":"Art v 3","g":"CG-PA","v":16},{"a":"Art v 3","g":"CG-PA","v":15},{"a":"Art v 3","g":"CG-PA","v":14},{"a":"Art v 3","g":"CG-PA","v":13},{"a":"Art v 3","g":"CG-PA","v":12},{"a":"Art v 3","g":"CG-PA","v":11},{"a":"Art v 3","g":"CG-PA","v":10},{"a":"Art v 3","g":"CG-PA","v":9},{"a":"Art v 3","g":"CG-PA","v":8},{"a":"Art v 3","g":"CG-PA","v":7},{"a":"Art v 3","g":"CG-PA","v":6},{"a":"Art v 3","g":"CG-PA","v":5},{"a":"Art v 3","g":"CG-PA","v":4},{"a":"Art v 3","g":"CG-PA","v":3},{"a":"Art v 3","g":"CG-PA","v":2},{"a":"Art v 3","g":"CG-PA","v":1.5},{"a":"Art v 3","g":"CG-PA","v":1.5},{"a":"Art v 3","g":"CG-PA","v":1.5},{"a":"Art v 3","g":"CG-PA","v":1.5},{"a":"Art v 3","g":"CG-PA","v":1},{"a":"Art v 3","g":"CG-PA","v":1},{"a":"Art v 3","g":"CG-PA","v":1},{"a":"Art v 3","g":"CG-PA","v":1},{"a":"Art v 3","g":"CG-PA","v":1},{"a":"Art v 3","g":"CG-PA","v":1},{"a":"Art v 3","g":"CG-PA","v":1},{"a":"Art v 3","g":"CG-PA","v":1},{"a":"Art v 3","g":"CG-PA","v":0.5},{"a":"Art v 3","g":"CG-PA","v":0.5},{"a":"Art v 3","g":"CG-PA","v":0.5},{"a":"Art v 3","g":"CG-PA","v":0.5},{"a":"Art v 3","g":"CG-PA","v":0.5},{"a":"Art v 3","g":"CG-PA","v":0.5},{"a":"Art v 3","g":"CG-PA","v":0.5},{"a":"Art v 3","g":"CG-PA","v":0.5},{"a":"Art v 3","g":"CG-PA","v":0.5},{"a":"Art v 3","g":"CG-PA","v":0.5},{"a":"Art v 3","g":"CG-PA","v":0.5},{"a":"Art v 3","g":"CG-PA","v":0.5},{"a":"Art v 3","g":"CG-PA","v":0.5},{"a":"Art v 3","g":"CG-PA","v":0.5},{"a":"Art v 3","g":"CG-PA","v":0.5},{"a":"Art v 3","g":"CG-PA","v":0},{"a":"Art v 3","g":"CG-PA","v":0},{"a":"Art v 3","g":"CG-PA","v":0},{"a":"Art v 3","g":"CG-PA","v":0},{"a":"Art v 3","g":"CG-PA","v":0},{"a":"Art v 3","g":"CG-PA","v":0},{"a":"Art v 3","g":"CG-PA","v":0},{"a":"Art v 3","g":"CG-PA","v":0},{"a":"Art v 3","g":"CG-PA","v":0},{"a":"Art v 3","g":"CG-PA","v":0},{"a":"Art v 3","g":"CG-PA","v":0},{"a":"Art v 3","g":"CG-PA","v":0},{"a":"Art v 3","g":"CG-PA","v":0},{"a":"Art v 3","g":"CG-PA","v":0},{"a":"Art v 3","g":"CG-PA","v":0},{"a":"Art v 3","g":"CG-PA","v":0},{"a":"Art v 3","g":"CG-PA","v":0},{"a":"Art v 3","g":"CG-PA","v":0},{"a":"Art v 3","g":"CG-PA","v":0},{"a":"Art v 3","g":"CG-PA","v":0},{"a":"Art v 3","g":"CG-PA","v":0},{"a":"Art v 3","g":"CG-PA","v":0},{"a":"Art v 3","g":"CG-PA","v":0},{"a":"Art v 3","g":"CG-PA","v":0},{"a":"Art v 3","g":"CG-PA","v":0},{"a":"Art v 3","g":"CG-PA","v":0},{"a":"Art v 3","g":"CG-PA","v":0},{"a":"Art v 3","g":"CG-PA","v":0},{"a":"Art v 3","g":"CG-PA","v":0},{"a":"Art v 3","g":"CG-PA","v":0},
      {"a":"Art v 3","g":"CG-FPA","v":100},{"a":"Art v 3","g":"CG-FPA","v":100},{"a":"Art v 3","g":"CG-FPA","v":100},{"a":"Art v 3","g":"CG-FPA","v":100},{"a":"Art v 3","g":"CG-FPA","v":100},{"a":"Art v 3","g":"CG-FPA","v":100},{"a":"Art v 3","g":"CG-FPA","v":100},{"a":"Art v 3","g":"CG-FPA","v":88},{"a":"Art v 3","g":"CG-FPA","v":75},{"a":"Art v 3","g":"CG-FPA","v":53.5},{"a":"Art v 3","g":"CG-FPA","v":52.5},{"a":"Art v 3","g":"CG-FPA","v":46},{"a":"Art v 3","g":"CG-FPA","v":44.5},{"a":"Art v 3","g":"CG-FPA","v":43},{"a":"Art v 3","g":"CG-FPA","v":42},{"a":"Art v 3","g":"CG-FPA","v":40.5},{"a":"Art v 3","g":"CG-FPA","v":34.5},{"a":"Art v 3","g":"CG-FPA","v":27.5},{"a":"Art v 3","g":"CG-FPA","v":27},{"a":"Art v 3","g":"CG-FPA","v":26},{"a":"Art v 3","g":"CG-FPA","v":25},{"a":"Art v 3","g":"CG-FPA","v":24.5},{"a":"Art v 3","g":"CG-FPA","v":23},{"a":"Art v 3","g":"CG-FPA","v":22.5},{"a":"Art v 3","g":"CG-FPA","v":21},{"a":"Art v 3","g":"CG-FPA","v":19},{"a":"Art v 3","g":"CG-FPA","v":18.5},{"a":"Art v 3","g":"CG-FPA","v":12.5},{"a":"Art v 3","g":"CG-FPA","v":11},{"a":"Art v 3","g":"CG-FPA","v":8.5},{"a":"Art v 3","g":"CG-FPA","v":7.5},{"a":"Art v 3","g":"CG-FPA","v":5},{"a":"Art v 3","g":"CG-FPA","v":3.5},{"a":"Art v 3","g":"CG-FPA","v":0},{"a":"Art v 3","g":"CG-FPA","v":0},{"a":"Art v 3","g":"CG-FPA","v":0},{"a":"Art v 3","g":"CG-FPA","v":0},{"a":"Art v 3","g":"CG-FPA","v":0},{"a":"Art v 3","g":"CG-FPA","v":0},{"a":"Art v 3","g":"CG-FPA","v":0},{"a":"Art v 3","g":"CG-FPA","v":0},{"a":"Art v 3","g":"CG-FPA","v":0},{"a":"Art v 3","g":"CG-FPA","v":0},{"a":"Art v 3","g":"CG-FPA","v":0},{"a":"Art v 3","g":"CG-FPA","v":0},{"a":"Art v 3","g":"CG-FPA","v":0},{"a":"Art v 3","g":"CG-FPA","v":0},{"a":"Art v 3","g":"CG-FPA","v":0},{"a":"Art v 3","g":"CG-FPA","v":0},{"a":"Art v 3","g":"CG-FPA","v":0},{"a":"Art v 3","g":"CG-FPA","v":0},{"a":"Art v 3","g":"CG-FPA","v":0},{"a":"Art v 3","g":"CG-FPA","v":0},{"a":"Art v 3","g":"CG-FPA","v":0}
    ],
    "mC": [
      {"a":"birch","g":"CG-PA","v":5},{"a":"birch","g":"CG-FPA","v":4.7},{"a":"Bet v 1","g":"CG-PA","v":1.5},{"a":"Bet v 1","g":"CG-FPA","v":0.5},{"a":"mugwort","g":"CG-PA","v":12.7},{"a":"mugwort","g":"CG-FPA","v":17.3},{"a":"Art v 3","g":"CG-PA","v":1},{"a":"Art v 3","g":"CG-FPA","v":16.3}
    ]
  },
  "vconcat": [
    {
      "hconcat": [
        {
          "width": 231, "height": 159,
          "title": {"text": "A", "anchor": "start", "frame": "group", "dx": -23, "fontSize": 17, "fontWeight": "bold", "offset": 14.5},
          "layer": [
            {
              "data": {"name": "A"},
              "transform": [
                {"calculate": "indexof(['birch','Bet v 1'], datum.a)", "as": "gi"},
                {"calculate": "floor(datum.v / 4)", "as": "bin"},
                {"window": [{"op": "row_number", "as": "rk"}, {"op": "count", "as": "cnt"}], "groupby": ["a", "g", "bin"], "sort": [{"field": "v", "order": "ascending"}], "frame": [null, null]},
                {"calculate": "datum.gi + (indexof(datum.g, 'G-PA') >= 0 ? -0.19 : 0.19) + ((datum.rk - 1) % min(datum.cnt, 8) - (min(datum.cnt, 8) - 1) / 2) * 0.037", "as": "xp"}
              ],
              "mark": {"type": "point", "filled": false, "size": 25, "strokeWidth": 0.9, "color": "#222", "opacity": 1},
              "encoding": {
                "x": {"field": "xp", "type": "quantitative", "scale": {"domain": [-0.44, 1.44], "nice": false, "zero": false},
                  "axis": {"title": null, "values": [0, 1], "tickCount": 10, "labelExpr": "datum.value == 0 ? 'birch' : 'Bet v 1'", "labelFontSize": 10, "labelFontWeight": "bold", "tickSize": 5, "labelPadding": 5, "labelOverlap": false, "domainColor": "#444", "tickColor": "#444", "domainWidth": 1.3, "tickWidth": 1.3}},
                "y": {"field": "v", "type": "quantitative", "scale": {"domain": [0, 110], "nice": false},
                  "axis": {"title": "sIgE（KUA/L）", "values": [0, 20, 40, 60, 80, 100], "tickCount": 10, "labelOverlap": false, "titleFontSize": 12, "titleFontWeight": "bold", "titlePadding": 5, "labelFontSize": 10, "labelFontWeight": "bold", "tickSize": 4, "labelPadding": 3, "domainColor": "#444", "tickColor": "#444", "domainWidth": 1.3, "tickWidth": 1.3}},
                "shape": {"field": "g", "type": "nominal", "scale": {"domain": ["SG-PA", "SG-PFA"], "range": ["circle", "triangle-up"]},
                  "legend": {"title": null, "orient": "none", "legendX": 251, "legendY": 19, "labelFontSize": 12, "symbolSize": 22, "symbolStrokeWidth": 0.9, "symbolStrokeColor": "#222", "rowPadding": 9, "labelOffset": 13, "padding": 0}}
              }
            },
            {
              "data": {"name": "mA"},
              "transform": [{"calculate": "indexof(['birch','Bet v 1'], datum.a) + (indexof(datum.g, 'G-PA') >= 0 ? -0.19 : 0.19)", "as": "xp"}],
              "mark": {"type": "tick", "orient": "horizontal", "size": 28, "thickness": 2, "color": "black"},
              "encoding": {"x": {"field": "xp", "type": "quantitative"}, "y": {"field": "v", "type": "quantitative"}}
            },
            {
              "data": {"values": [{"a": "birch", "t": "***"}, {"a": "Bet v 1", "t": "***"}]},
              "transform": [
                {"calculate": "indexof(['birch','Bet v 1'], datum.a)", "as": "gi"},
                {"calculate": "datum.gi - 0.19", "as": "xp"},
                {"calculate": "datum.gi + 0.19", "as": "xp2"}
              ],
              "layer": [
                {"mark": {"type": "rule", "color": "#444", "strokeWidth": 1.2}, "encoding": {"x": {"field": "xp", "type": "quantitative"}, "x2": {"field": "xp2"}, "y": {"datum": 113}}},
                {"mark": {"type": "rule", "color": "#444", "strokeWidth": 1.2}, "encoding": {"x": {"field": "xp", "type": "quantitative"}, "y": {"datum": 108.3}, "y2": {"datum": 113}}},
                {"mark": {"type": "rule", "color": "#444", "strokeWidth": 1.2}, "encoding": {"x": {"field": "xp2", "type": "quantitative"}, "y": {"datum": 108.3}, "y2": {"datum": 113}}},
                {"mark": {"type": "text", "fontSize": 20, "fontWeight": "bold", "baseline": "alphabetic", "color": "black"}, "encoding": {"x": {"field": "gi", "type": "quantitative"}, "y": {"datum": 111.5}, "text": {"field": "t"}}}
              ]
            }
          ]
        },
        {
          "vconcat": [
            {"width": 1, "height": 1, "data": {"values": []}, "mark": "point"},
            {
              "width": 219, "height": 151,
              "title": {"text": "B", "anchor": "start", "frame": "group", "dx": -19, "fontSize": 17, "fontWeight": "bold", "offset": 21},
              "layer": [
                {
                  "data": {"name": "B"},
                  "transform": [
                    {"calculate": "indexof(['mugwort','Art v 3'], datum.a)", "as": "gi"},
                    {"calculate": "floor(datum.v / 4)", "as": "bin"},
                    {"window": [{"op": "row_number", "as": "rk"}, {"op": "count", "as": "cnt"}], "groupby": ["a", "g", "bin"], "sort": [{"field": "v", "order": "ascending"}], "frame": [null, null]},
                    {"calculate": "datum.gi + (indexof(datum.g, 'G-PA') >= 0 ? -0.21 : 0.21) + ((datum.rk - 1) % min(datum.cnt, 8) - (min(datum.cnt, 8) - 1) / 2) * 0.037", "as": "xp"}
                  ],
                  "mark": {"type": "point", "filled": false, "size": 25, "strokeWidth": 0.9, "color": "#222", "opacity": 1},
                  "encoding": {
                    "x": {"field": "xp", "type": "quantitative", "scale": {"domain": [-0.44, 1.44], "nice": false, "zero": false},
                      "axis": {"title": null, "values": [0, 1], "tickCount": 10, "labelExpr": "datum.value == 0 ? 'mugwort' : 'Art v 3'", "labelOverlap": false, "labelFontSize": 10, "labelFontWeight": "bold", "tickSize": 5, "labelPadding": 5, "domainColor": "#444", "tickColor": "#444", "domainWidth": 1.3, "tickWidth": 1.3}},
                    "y": {"field": "v", "type": "quantitative", "scale": {"domain": [0, 110], "nice": false},
                      "axis": {"title": "sIgE（KUA/L）", "values": [0, 20, 40, 60, 80, 100], "tickCount": 10, "labelOverlap": false, "titleFontSize": 11, "titleFontWeight": "bold", "titlePadding": 7, "labelFontSize": 10, "labelFontWeight": "bold", "tickSize": 4, "labelPadding": 3, "domainColor": "#444", "tickColor": "#444", "domainWidth": 1.3, "tickWidth": 1.3}},
                    "shape": {"field": "g", "type": "nominal", "scale": {"domain": ["AG-PA", "AG-PFA"], "range": ["circle", "triangle-up"]},
                      "legend": {"title": null, "orient": "none", "legendX": 240, "legendY": 17, "labelFontSize": 11, "symbolSize": 22, "symbolStrokeWidth": 0.9, "symbolStrokeColor": "#222", "rowPadding": 7, "labelOffset": 11, "padding": 0}}
                  }
                },
                {
                  "data": {"name": "mB"},
                  "transform": [{"calculate": "indexof(['mugwort','Art v 3'], datum.a) + (indexof(datum.g, 'G-PA') >= 0 ? -0.21 : 0.21)", "as": "xp"}],
                  "mark": {"type": "tick", "orient": "horizontal", "size": 28, "thickness": 2, "color": "black"},
                  "encoding": {"x": {"field": "xp", "type": "quantitative"}, "y": {"field": "v", "type": "quantitative"}}
                },
                {
                  "data": {"values": [{"a": "mugwort", "t": "ns"}, {"a": "Art v 3", "t": "***"}]},
                  "transform": [
                    {"calculate": "indexof(['mugwort','Art v 3'], datum.a)", "as": "gi"},
                    {"calculate": "datum.gi - 0.21", "as": "xp"},
                    {"calculate": "datum.gi + 0.21", "as": "xp2"}
                  ],
                  "layer": [
                    {"mark": {"type": "rule", "color": "#444", "strokeWidth": 1.2}, "encoding": {"x": {"field": "xp", "type": "quantitative"}, "x2": {"field": "xp2"}, "y": {"datum": 113}}},
                    {"mark": {"type": "rule", "color": "#444", "strokeWidth": 1.2}, "encoding": {"x": {"field": "xp", "type": "quantitative"}, "y": {"datum": 109}, "y2": {"datum": 113}}},
                    {"mark": {"type": "rule", "color": "#444", "strokeWidth": 1.2}, "encoding": {"x": {"field": "xp2", "type": "quantitative"}, "y": {"datum": 109}, "y2": {"datum": 113}}},
                    {"transform": [{"filter": "datum.t == 'ns'"}], "mark": {"type": "text", "fontSize": 11.5, "baseline": "alphabetic", "color": "black"}, "encoding": {"x": {"field": "gi", "type": "quantitative"}, "y": {"datum": 119}, "text": {"field": "t"}}},
                    {"transform": [{"filter": "datum.t != 'ns'"}], "mark": {"type": "text", "fontSize": 20, "fontWeight": "bold", "baseline": "alphabetic", "color": "black"}, "encoding": {"x": {"field": "gi", "type": "quantitative"}, "y": {"datum": 112}, "text": {"field": "t"}}}
                  ]
                }
              ]
            }
          ],
          "spacing": 8,
          "bounds": "flush",
          "resolve": {"scale": {"shape": "independent"}, "legend": {"shape": "independent"}}
        }
      ],
      "spacing": 152,
      "bounds": "flush",
      "resolve": {"scale": {"shape": "independent"}, "legend": {"shape": "independent"}}
    },
    {
      "hconcat": [
        {"width": 1, "height": 1, "data": {"values": []}, "mark": "point"},
        {
          "width": 318, "height": 220,
          "title": {"text": "C", "anchor": "start", "frame": "group", "dx": -12, "fontSize": 17, "fontWeight": "bold", "offset": 3},
          "layer": [
            {
              "data": {"name": "C"},
              "transform": [
                {"calculate": "indexof(['birch','Bet v 1','mugwort','Art v 3'], datum.a)", "as": "gi"},
                {"calculate": "floor(datum.v / 2.5)", "as": "bin"},
                {"window": [{"op": "row_number", "as": "rk"}, {"op": "count", "as": "cnt"}], "groupby": ["a", "g", "bin"], "sort": [{"field": "v", "order": "ascending"}], "frame": [null, null]},
                {"calculate": "datum.gi + (indexof(datum.g, 'G-PA') >= 0 ? -0.19 : 0.19) + ((datum.rk - 1) % min(datum.cnt, 6) - (min(datum.cnt, 6) - 1) / 2) * 0.032", "as": "xp"}
              ],
              "mark": {"type": "point", "filled": false, "size": 18, "strokeWidth": 0.9, "color": "#111", "opacity": 1},
              "encoding": {
                "x": {"field": "xp", "type": "quantitative", "scale": {"domain": [-0.44, 3.44], "nice": false, "zero": false},
                  "axis": {"title": null, "values": [0, 1, 2, 3], "tickCount": 10, "labelExpr": "['birch','Bet v 1','mugwort','Art v 3'][datum.value]", "labelOverlap": false, "labelFontSize": 15, "labelFontWeight": "bold", "tickSize": 6, "labelPadding": 2, "domainColor": "#111", "tickColor": "#111", "domainWidth": 1.5, "tickWidth": 1.5}},
                "y": {"field": "v", "type": "quantitative", "scale": {"domain": [0, 110], "nice": false},
                  "axis": {"title": "sIgE（KUA/L）", "values": [0, 20, 40, 60, 80, 100], "tickCount": 10, "labelOverlap": false, "titleFontSize": 19, "titleFontWeight": "bold", "titlePadding": 8, "labelFontSize": 15, "labelFontWeight": "bold", "tickSize": 6, "labelPadding": 3, "domainColor": "#111", "tickColor": "#111", "domainWidth": 1.5, "tickWidth": 1.5}},
                "shape": {"field": "g", "type": "nominal", "scale": {"domain": ["CG-PA", "CG-FPA"], "range": ["circle", "triangle-up"]},
                  "legend": {"title": null, "orient": "none", "legendX": 351, "legendY": 17, "labelFontSize": 16, "symbolSize": 36, "symbolStrokeWidth": 1, "symbolStrokeColor": "#111", "rowPadding": 16, "labelOffset": 14, "padding": 0}}
              }
            },
            {
              "data": {"name": "mC"},
              "transform": [{"calculate": "indexof(['birch','Bet v 1','mugwort','Art v 3'], datum.a) + (indexof(datum.g, 'G-PA') >= 0 ? -0.19 : 0.19)", "as": "xp"}],
              "mark": {"type": "tick", "orient": "horizontal", "size": 20, "thickness": 2, "color": "black"},
              "encoding": {"x": {"field": "xp", "type": "quantitative"}, "y": {"field": "v", "type": "quantitative"}}
            },
            {
              "data": {"values": [{"a": "birch", "t": "ns"}, {"a": "Bet v 1", "t": "ns"}, {"a": "mugwort", "t": "ns"}, {"a": "Art v 3", "t": "*"}]},
              "transform": [
                {"calculate": "indexof(['birch','Bet v 1','mugwort','Art v 3'], datum.a)", "as": "gi"},
                {"calculate": "datum.gi - 0.19", "as": "xp"},
                {"calculate": "datum.gi + 0.19", "as": "xp2"}
              ],
              "layer": [
                {"mark": {"type": "rule", "color": "#444", "strokeWidth": 1.5}, "encoding": {"x": {"field": "xp", "type": "quantitative"}, "x2": {"field": "xp2"}, "y": {"datum": 110.5}}},
                {"mark": {"type": "rule", "color": "#444", "strokeWidth": 1.5}, "encoding": {"x": {"field": "xp", "type": "quantitative"}, "y": {"datum": 105.5}, "y2": {"datum": 110.5}}},
                {"mark": {"type": "rule", "color": "#444", "strokeWidth": 1.5}, "encoding": {"x": {"field": "xp2", "type": "quantitative"}, "y": {"datum": 105.5}, "y2": {"datum": 110.5}}},
                {"transform": [{"filter": "datum.t == 'ns'"}], "mark": {"type": "text", "fontSize": 17, "baseline": "alphabetic", "color": "black"}, "encoding": {"x": {"field": "gi", "type": "quantitative"}, "y": {"datum": 115}, "text": {"field": "t"}}},
                {"transform": [{"filter": "datum.t != 'ns'"}], "mark": {"type": "text", "fontSize": 24, "fontWeight": "bold", "baseline": "alphabetic", "color": "black"}, "encoding": {"x": {"field": "gi", "type": "quantitative"}, "y": {"datum": 110.6}, "text": {"field": "t"}}}
              ]
            }
          ]
        }
      ],
      "spacing": 164,
      "bounds": "flush",
      "resolve": {"scale": {"shape": "independent"}, "legend": {"shape": "independent"}}
    }
  ]
}
